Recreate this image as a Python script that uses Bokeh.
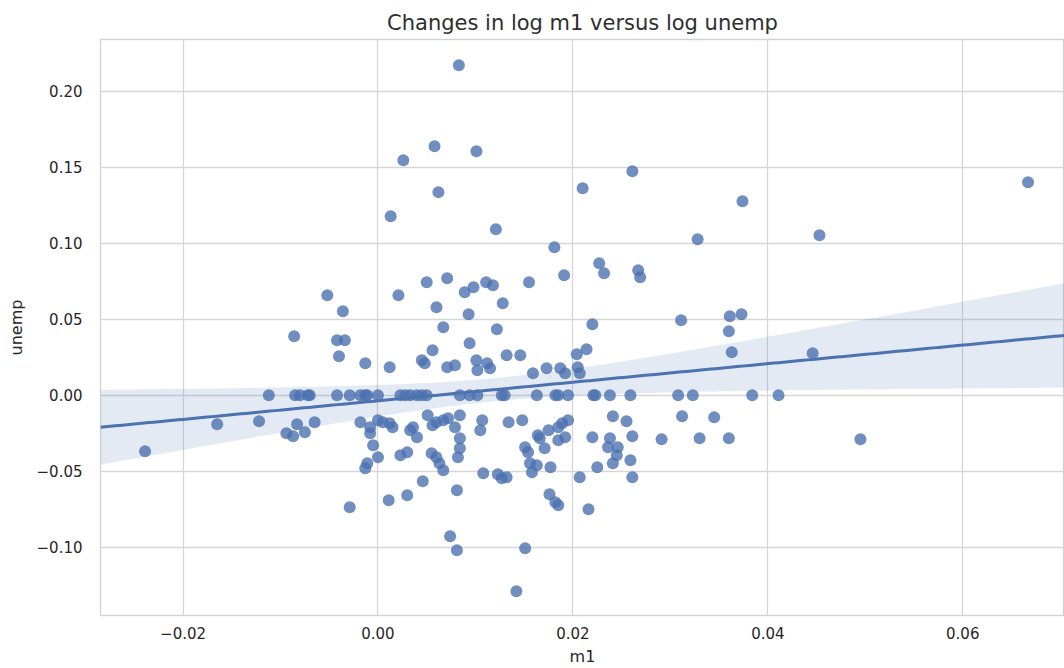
import numpy as np
from bokeh.plotting import figure
from bokeh.models import FixedTicker, Range1d
from bokeh.embed import file_html
from bokeh.resources import INLINE

# ---- data (changes in log m1 / log unemp) ----
m1_upper = [0.0083, 0.0058, 0.0101, 0.0026, 0.0062, 0.0210, 0.0261, 0.0667, 0.0374, 0.0013,
            0.0121, 0.0453, 0.0328, 0.0181, 0.0227, 0.0232, 0.0267, 0.0269, 0.0191, 0.0050,
            0.0071, 0.0111, 0.0118, 0.0089, 0.0098, 0.0155, -0.0052, 0.0021, 0.0060, 0.0093,
            0.0128, -0.0036, 0.0311, 0.0361, 0.0373, 0.0220, 0.0067, 0.0122, 0.0360, -0.0086,
            -0.0042, -0.0034, 0.0094, 0.0056, -0.0040, -0.0013, 0.0012, 0.0045, 0.0048, 0.0071,
            0.0079, 0.0101, 0.0102, 0.0112, 0.0115, 0.0132, 0.0146, 0.0159, 0.0173, 0.0187,
            0.0192, 0.0204, 0.0214, 0.0205, 0.0207, 0.0363, 0.0446]
unemp_upper = [0.2171, 0.1638, 0.1605, 0.1546, 0.1336, 0.1362, 0.1474, 0.1401, 0.1276, 0.1178,
               0.1092, 0.1053, 0.1026, 0.0974, 0.0868, 0.0803, 0.0822, 0.0776, 0.0789, 0.0743,
               0.0770, 0.0743, 0.0724, 0.0678, 0.0711, 0.0743, 0.0658, 0.0658, 0.0579, 0.0533,
               0.0605, 0.0553, 0.0493, 0.0520, 0.0533, 0.0467, 0.0447, 0.0434, 0.0421, 0.0388,
               0.0362, 0.0362, 0.0342, 0.0296, 0.0257, 0.0211, 0.0184, 0.0230, 0.0211, 0.0184,
               0.0197, 0.0230, 0.0164, 0.0211, 0.0178, 0.0263, 0.0263, 0.0145, 0.0178, 0.0178,
               0.0145, 0.0270, 0.0303, 0.0184, 0.0145, 0.0283, 0.0276]

m1_zero = [-0.0112, -0.0085, -0.0080, -0.0072, -0.0070, -0.0042, -0.0029, -0.0018, -0.0013, -0.0011,
           0.0000, 0.0023, 0.0028, 0.0033, 0.0040, 0.0045, 0.0050, 0.0084, 0.0094, 0.0102,
           0.0127, 0.0130, 0.0163, 0.0182, 0.0185, 0.0195, 0.0221, 0.0223, 0.0238, 0.0259,
           0.0308, 0.0323, 0.0384, 0.0411]
unemp_zero = [0.0, 0.0, 0.0, 0.0, 0.0, 0.0, 0.0, 0.0, 0.0, 0.0,
              0.0, 0.0, 0.0, 0.0, 0.0, 0.0, 0.0, 0.0, 0.0, 0.0,
              0.0, 0.0, 0.0, 0.0, 0.0, 0.0, 0.0, 0.0, 0.0, 0.0,
              0.0, 0.0, 0.0, 0.0]

m1_lower = [-0.0165, -0.0122, -0.0239, -0.0094, -0.0087, -0.0083, -0.0075, -0.0065, -0.0018, -0.0008,
            0.0000, 0.0005, 0.0012, 0.0015, -0.0008, -0.0005, 0.0000, -0.0011, -0.0013, 0.0023,
            0.0030, 0.0033, 0.0036, 0.0040, 0.0051, 0.0056, 0.0060, 0.0067, 0.0072, 0.0055,
            0.0060, 0.0063, 0.0067, 0.0082, 0.0046, 0.0084, 0.0079, 0.0107, 0.0105, 0.0134,
            0.0148, 0.0084, 0.0084, 0.0164, 0.0166, 0.0175, 0.0185, 0.0189, 0.0195, 0.0185,
            0.0192, 0.0151, 0.0154, 0.0171, 0.0220, 0.0156, 0.0163, 0.0177, 0.0108, 0.0123,
            0.0127, 0.0132, 0.0207, 0.0225, 0.0241, 0.0255, 0.0312, 0.0345, 0.0238, 0.0261,
            0.0291, 0.0330, 0.0360, 0.0236, 0.0246, 0.0245, 0.0241, 0.0259, 0.0261, -0.0029,
            0.0011, 0.0030, 0.0081, 0.0176, 0.0182, 0.0185, 0.0216, 0.0158, 0.0074, 0.0081,
            0.0151, 0.0142, 0.0495]
unemp_lower = [-0.0191, -0.0171, -0.0368, -0.0250, -0.0270, -0.0191, -0.0243, -0.0178, -0.0178, -0.0211,
               -0.0164, -0.0178, -0.0184, -0.0211, -0.0250, -0.0329, -0.0408, -0.0447, -0.0480, -0.0395,
               -0.0375, -0.0230, -0.0211, -0.0276, -0.0132, -0.0197, -0.0178, -0.0164, -0.0151, -0.0382,
               -0.0408, -0.0447, -0.0493, -0.0408, -0.0566, -0.0132, -0.0211, -0.0164, -0.0230, -0.0178,
               -0.0164, -0.0283, -0.0349, -0.0263, -0.0283, -0.0230, -0.0211, -0.0184, -0.0164, -0.0296,
               -0.0276, -0.0342, -0.0375, -0.0349, -0.0276, -0.0447, -0.0461, -0.0474, -0.0513, -0.0520,
               -0.0546, -0.0539, -0.0539, -0.0474, -0.0138, -0.0171, -0.0138, -0.0145, -0.0283, -0.0270,
               -0.0289, -0.0283, -0.0283, -0.0342, -0.0342, -0.0395, -0.0447, -0.0428, -0.0539, -0.0737,
               -0.0691, -0.0658, -0.0625, -0.0651, -0.0704, -0.0724, -0.0750, -0.0507, -0.0928, -0.1020,
               -0.1007, -0.1289, -0.0289]

xticks = [-0.02, 0.0, 0.02, 0.04, 0.06]
xtick_labels = ["\u22120.02", "0.00", "0.02", "0.04", "0.06"]
yticks = [-0.10, -0.05, 0.0, 0.05, 0.10, 0.15, 0.20]
ytick_labels = ["\u22120.10", "\u22120.05", "0.00", "0.05", "0.10", "0.15", "0.20"]

X_MIN, X_MAX = -0.02847, 0.07044
Y_MIN, Y_MAX = -0.1449, 0.2340

# ---- regression fit with 95% confidence band computed from the data ----
x = np.array(m1_upper + m1_zero + m1_lower)
y = np.array(unemp_upper + unemp_zero + unemp_lower)
n = len(x)
slope, intercept = np.polyfit(x, y, 1)
resid = y - (slope * x + intercept)
s = np.sqrt(np.sum(resid ** 2) / (n - 2))
xbar = x.mean()
sxx = np.sum((x - xbar) ** 2)
grid = np.linspace(X_MIN, X_MAX, 200)
fit = slope * grid + intercept
half = 1.972 * s * np.sqrt(1.0 / n + (grid - xbar) ** 2 / sxx)

BLUE = "#4C72B0"
TXT = "#262626"
FONT = "DejaVu Sans"

p = figure(width=1064, height=668,
           x_range=Range1d(X_MIN, X_MAX), y_range=Range1d(Y_MIN, Y_MAX),
           output_backend="svg", toolbar_location=None,
           title="Changes in log m1 versus log unemp",
           min_border_left=100, min_border_right=0, min_border_top=39, min_border_bottom=52,
           x_axis_label="m1", y_axis_label="unemp")

p.background_fill_color = "white"
p.border_fill_color = "white"
p.outline_line_color = "#d2d2d2"
p.outline_line_width = 1.3

p.title.align = "center"
p.title.text_font = FONT
p.title.text_font_size = "21px"
p.title.text_font_style = "normal"
p.title.text_color = "#2e2e2e"
p.title.standoff = 10

p.xaxis.ticker = FixedTicker(ticks=xticks)
p.yaxis.ticker = FixedTicker(ticks=yticks)
p.xaxis.major_label_overrides = dict(zip(xticks, xtick_labels))
p.yaxis.major_label_overrides = dict(zip(yticks, ytick_labels))
p.xgrid.ticker = FixedTicker(ticks=xticks)
p.ygrid.ticker = FixedTicker(ticks=yticks)
for g in (p.xgrid, p.ygrid):
    g.grid_line_color = "#d6d6d6"
    g.grid_line_width = 1.3

for ax in (p.xaxis, p.yaxis):
    ax.axis_line_color = None
    ax.major_tick_line_color = None
    ax.minor_tick_line_color = None
    ax.major_label_text_font = FONT
    ax.major_label_text_font_size = "15px"
    ax.major_label_text_color = TXT
    ax.axis_label_text_font = FONT
    ax.axis_label_text_font_size = "16px"
    ax.axis_label_text_font_style = "normal"
    ax.axis_label_text_color = TXT

p.xaxis.major_label_standoff = 5
p.xaxis.axis_label_standoff = 5
p.yaxis.major_label_standoff = 12
p.yaxis.axis_label_standoff = 8

p.scatter(x, y, size=12, fill_color=BLUE, fill_alpha=0.8, line_color=None)
p.varea(x=grid, y1=fit - half, y2=fit + half, fill_color=BLUE, fill_alpha=0.15)
p.line(grid, fit, line_color=BLUE, line_width=3)

open("out.html", "w").write(file_html(p, INLINE))
